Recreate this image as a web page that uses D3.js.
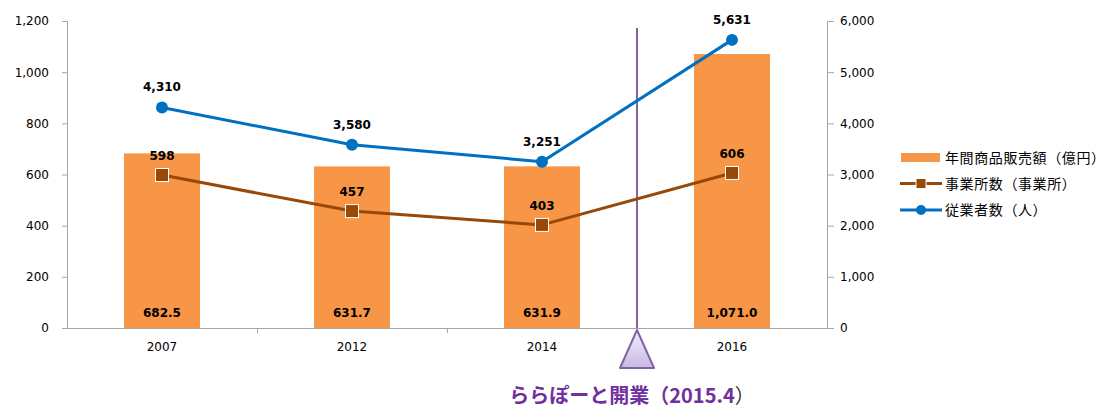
<!DOCTYPE html>
<html>
<head>
<meta charset="utf-8">
<script src="https://cdn.jsdelivr.net/npm/d3@7"></script>
<style>
  html, body { margin: 0; padding: 0; background: #fff; }
  svg { display: block; }
</style>
</head>
<body>
<svg id="chart" width="1105" height="410"></svg>
<script>
// Data
const years = ["2007", "2012", "2014", "2016"];
const sales = [682.5, 631.7, 631.9, 1071.0];        // 年間商品販売額（億円）
const establishments = [598, 457, 403, 606];       // 事業所数（事業所）
const employees = [4310, 3580, 3251, 5631];        // 従業者数（人）
const leftTicks = [0, 200, 400, 600, 800, 1000, 1200];
const rightTicks = [0, 1000, 2000, 3000, 4000, 5000, 6000];
const legendLabels = ["年間商品販売額（億円）", "事業所数（事業所）", "従業者数（人）"];
const eventLabel = "ららぽーと開業（2015.4";

const svg = d3.select("#chart");
const font = "'DejaVu Sans', Verdana, sans-serif";
const cjk = "'Noto Sans CJK JP', sans-serif";
const axisColor = "#a6a6a6";

const plot = { left: 67, right: 827, top: 21, bottom: 328 };

const x = d3.scaleBand().domain(years).range([plot.left, plot.right]).paddingInner(0).paddingOuter(0);
const yL = d3.scaleLinear().domain([0, 1200]).range([plot.bottom, plot.top]);
const yR = d3.scaleLinear().domain([0, 6000]).range([plot.bottom, plot.top]);
const fmt = d3.format(",");
const cx = d => x(d) + x.bandwidth() / 2;
const barW = x.bandwidth() * 0.4;

// Bars
svg.append("g").selectAll("rect").data(years).join("rect")
  .attr("x", d => cx(d) - barW / 2)
  .attr("y", (d, i) => yL(sales[i]))
  .attr("width", barW)
  .attr("height", (d, i) => yL(0) - yL(sales[i]))
  .attr("fill", "#f79646");

// Left axis
const gL = svg.append("g").attr("transform", `translate(${plot.left},0)`)
  .call(d3.axisLeft(yL).tickValues(leftTicks).tickFormat(fmt).tickSizeOuter(0).tickSize(5).tickPadding(13));
// Right axis
const gR = svg.append("g").attr("transform", `translate(${plot.right},0)`)
  .call(d3.axisRight(yR).tickValues(rightTicks).tickFormat(fmt).tickSizeOuter(0).tickSize(7).tickPadding(6));
[gL, gR].forEach(g => {
  g.select(".domain").attr("stroke", axisColor);
  g.selectAll(".tick line").attr("stroke", axisColor);
  g.selectAll(".tick text").attr("fill", "#000").style("font-family", font).style("font-size", "12px");
});

// Category axis
const gX = svg.append("g");
gX.append("line").attr("x1", plot.left - 5).attr("x2", plot.right + 7)
  .attr("y1", plot.bottom + 0.5).attr("y2", plot.bottom + 0.5).attr("stroke", axisColor);
gX.selectAll("line.tk").data(years.slice(1)).join("line").attr("class", "tk")
  .attr("x1", d => x(d) + 0.5).attr("x2", d => x(d) + 0.5)
  .attr("y1", plot.bottom).attr("y2", plot.bottom + 5).attr("stroke", axisColor);
gX.selectAll("text").data(years).join("text")
  .attr("x", d => cx(d)).attr("y", plot.bottom + 23)
  .attr("text-anchor", "middle").style("font-family", font).style("font-size", "12px")
  .text(d => d);

// Event marker between 2014 and 2016
const ex = x("2016");
svg.append("line").attr("x1", ex).attr("x2", ex).attr("y1", 28).attr("y2", plot.bottom)
  .attr("stroke", "#8064a2").attr("stroke-width", 2);
const grad = svg.append("defs").append("linearGradient").attr("id", "triFill")
  .attr("x1", 0).attr("y1", 0).attr("x2", 0).attr("y2", 1);
grad.append("stop").attr("offset", "0%").attr("stop-color", "#f3effa");
grad.append("stop").attr("offset", "100%").attr("stop-color", "#c9b8e4");
svg.append("path")
  .attr("d", `M${ex},${plot.bottom + 2} L${ex + 17},${plot.bottom + 40} L${ex - 17},${plot.bottom + 40} Z`)
  .attr("fill", "url(#triFill)").attr("stroke", "#8064a2").attr("stroke-width", 2).attr("stroke-linejoin", "round");
const evt = svg.append("text").attr("x", ex - 5).attr("y", 403).attr("text-anchor", "middle")
  .style("font-family", cjk).style("font-size", "20px").style("font-weight", "bold").attr("fill", "#7030a0");
evt.append("tspan").text(eventLabel);
evt.append("tspan").attr("fill", "#333").style("font-weight", "normal").text("）");

// Lines
const lineEst = d3.line().x((d, i) => cx(years[i])).y(d => yL(d));
const lineEmp = d3.line().x((d, i) => cx(years[i])).y(d => yR(d));
svg.append("path").attr("d", lineEst(establishments)).attr("fill", "none")
  .attr("stroke", "#984807").attr("stroke-width", 3).attr("stroke-linejoin", "round");
svg.append("path").attr("d", lineEmp(employees)).attr("fill", "none")
  .attr("stroke", "#0070c0").attr("stroke-width", 3).attr("stroke-linejoin", "round");

// Markers
svg.append("g").selectAll("rect").data(establishments).join("rect")
  .attr("x", (d, i) => cx(years[i]) - 6.5).attr("y", d => yL(d) - 6.5)
  .attr("width", 13).attr("height", 13)
  .attr("fill", "#984807").attr("stroke", "#fff").attr("stroke-width", 1);
svg.append("g").selectAll("circle").data(employees).join("circle")
  .attr("cx", (d, i) => cx(years[i])).attr("cy", d => yR(d)).attr("r", 6)
  .attr("fill", "#0070c0");

// Value labels
const lbl = (g, data, xf, yf, f) => g.selectAll("text").data(data).join("text")
  .attr("x", xf).attr("y", yf).attr("text-anchor", "middle")
  .style("font-family", font).style("font-size", "12px").style("font-weight", "bold")
  .attr("fill", "#000").text(f);
lbl(svg.append("g"), employees, (d, i) => cx(years[i]), d => yR(d) - 16, fmt);
lbl(svg.append("g"), establishments, (d, i) => cx(years[i]), d => yL(d) - 15, fmt);
lbl(svg.append("g"), sales, (d, i) => cx(years[i]), () => plot.bottom - 11, d3.format(",.1f"));

// Legend
const lg = svg.append("g").attr("transform", "translate(900,0)");
const rows = [157.5, 183.5, 210];
lg.append("rect").attr("x", 1).attr("y", rows[0] - 4.5).attr("width", 39).attr("height", 9).attr("fill", "#f79646");
lg.append("line").attr("x1", 0).attr("x2", 42).attr("y1", rows[1]).attr("y2", rows[1])
  .attr("stroke", "#984807").attr("stroke-width", 3);
lg.append("rect").attr("x", 21 - 5).attr("y", rows[1] - 5).attr("width", 10).attr("height", 10)
  .attr("fill", "#984807").attr("stroke", "#fff").attr("stroke-width", 1);
lg.append("line").attr("x1", 0).attr("x2", 42).attr("y1", rows[2]).attr("y2", rows[2])
  .attr("stroke", "#0070c0").attr("stroke-width", 3);
lg.append("circle").attr("cx", 21).attr("cy", rows[2]).attr("r", 5).attr("fill", "#0070c0");
lg.selectAll("text").data(legendLabels).join("text")
  .attr("x", 45).attr("y", (d, i) => rows[i] + 5)
  .style("font-family", cjk).style("font-size", "14px").style("letter-spacing", "0.6px").attr("fill", "#000")
  .text(d => d);
</script>
</body>
</html>
